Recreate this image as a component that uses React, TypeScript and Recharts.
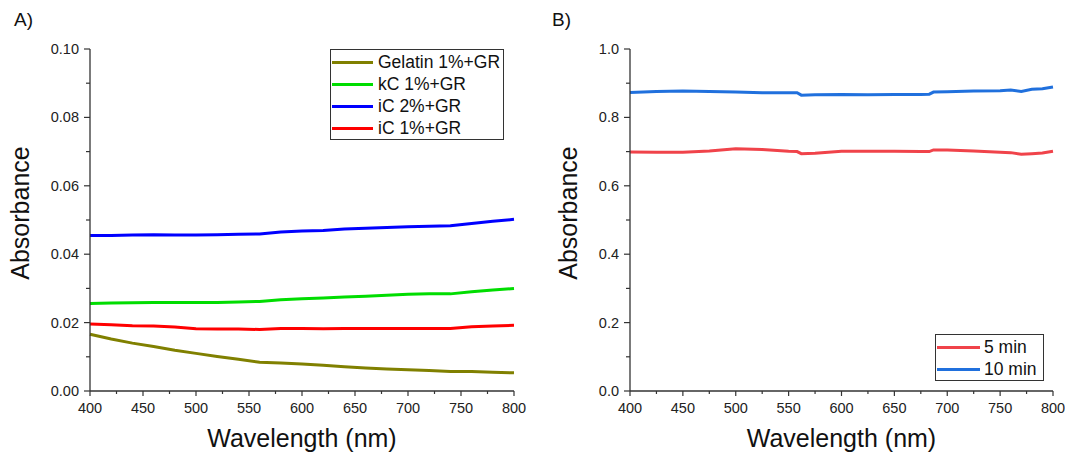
import React from 'react';
import { LineChart, Line, XAxis, YAxis, Label } from 'recharts';

const FONT = '"Liberation Sans", Arial, sans-serif';
const AXIS = '#333';

// Panel A
const wavelengthsA = [400, 420, 440, 460, 480, 500, 520, 540, 560, 580, 600, 620, 640, 660, 680, 700, 720, 740, 760, 780, 800];
const gelatin = [0.0166, 0.0152, 0.014, 0.013, 0.0119, 0.011, 0.0101, 0.0093, 0.0084, 0.0082, 0.0079, 0.0075, 0.0071, 0.0067, 0.0064, 0.0062, 0.006, 0.0057, 0.0057, 0.0055, 0.0053];
const kc1 = [0.0256, 0.0257, 0.0258, 0.0259, 0.0259, 0.0259, 0.0259, 0.026, 0.0262, 0.0267, 0.027, 0.0272, 0.0275, 0.0277, 0.028, 0.0283, 0.0284, 0.0284, 0.029, 0.0295, 0.03];
const ic2 = [0.0455, 0.0455, 0.0456, 0.0457, 0.0456, 0.0456, 0.0457, 0.0458, 0.0459, 0.0465, 0.0468, 0.0469, 0.0474, 0.0476, 0.0478, 0.048, 0.0482, 0.0483, 0.049, 0.0496, 0.0502];
const ic1 = [0.0196, 0.0194, 0.0191, 0.019, 0.0187, 0.0182, 0.0181, 0.0181, 0.018, 0.0183, 0.0183, 0.0182, 0.0183, 0.0183, 0.0183, 0.0183, 0.0183, 0.0183, 0.0188, 0.019, 0.0192];
const seriesA = [
  { key: 'gelatin', name: 'Gelatin 1%+GR', color: '#808000', values: gelatin },
  { key: 'kc1', name: 'kC 1%+GR', color: '#00dd00', values: kc1 },
  { key: 'ic2', name: 'iC 2%+GR', color: '#0000ff', values: ic2 },
  { key: 'ic1', name: 'iC 1%+GR', color: '#ff0000', values: ic1 },
];
const yTicksA = [0, 0.01, 0.02, 0.03, 0.04, 0.05, 0.06, 0.07, 0.08, 0.09, 0.1];

// Panel B
const wavelengthsB = [400, 425, 450, 475, 500, 525, 550, 558, 562, 575, 600, 625, 650, 675, 683, 687, 700, 725, 750, 760, 770, 780, 790, 800];
const min5 = [0.699, 0.698, 0.698, 0.702, 0.708, 0.706, 0.701, 0.7, 0.694, 0.695, 0.701, 0.701, 0.701, 0.7, 0.7, 0.705, 0.705, 0.702, 0.698, 0.697, 0.692, 0.694, 0.696, 0.701];
const min10 = [0.873, 0.876, 0.877, 0.876, 0.874, 0.872, 0.872, 0.872, 0.865, 0.866, 0.867, 0.866, 0.867, 0.867, 0.868, 0.874, 0.875, 0.877, 0.878, 0.88, 0.876, 0.882, 0.884, 0.889];
const seriesB = [
  { key: 'min5', name: '5 min', color: '#f0434a', values: min5 },
  { key: 'min10', name: '10 min', color: '#2070dd', values: min10 },
];
const yTicksB = [0, 0.1, 0.2, 0.3, 0.4, 0.5, 0.6, 0.7, 0.8, 0.9, 1.0];

const xTicks = [400, 425, 450, 475, 500, 525, 550, 575, 600, 625, 650, 675, 700, 725, 750, 775, 800];

function buildRows(wl: number[], series: { key: string; values: number[] }[]) {
  return wl.map((w, i) => {
    const row: Record<string, number> = { wl: w };
    series.forEach(s => { row[s.key] = s.values[i]; });
    return row;
  });
}

const XTick = (props: any) => {
  const { x, y, payload } = props;
  const major = payload.value % 50 === 0;
  return (
    <g>
      <line x1={x} x2={x} y1={y} y2={y + (major ? 5 : 3)} stroke={AXIS} strokeWidth={1.2} />
      {major && (
        <text x={x} y={y + 17} textAnchor="middle" dominantBaseline="central" fontSize={14.5} fill="#222" fontFamily={FONT}>
          {payload.value}
        </text>
      )}
    </g>
  );
};

const makeYTick = (step: number, digits: number) => (props: any) => {
  const { x, y, payload } = props;
  const major = Math.round(payload.value / step) % 2 === 0;
  return (
    <g>
      <line x1={x - (major ? 6 : 4)} x2={x} y1={y} y2={y} stroke={AXIS} strokeWidth={1.2} />
      {major && (
        <text x={x - 11} y={y} textAnchor="end" dominantBaseline="central" fontSize={14.5} fill="#222" fontFamily={FONT}>
          {payload.value.toFixed(digits)}
        </text>
      )}
    </g>
  );
};

interface LegendProps {
  items: { name: string; color: string }[];
  pos: React.CSSProperties;
  lineStart: number;
  lineWidth: number;
  gap: number;
  rowTop: number;
  rowHeight: number;
}

const LegendBox = ({ items, pos, lineStart, lineWidth, gap, rowTop, rowHeight }: LegendProps) => (
  <div style={{ position: 'absolute', ...pos, border: `1.2px solid ${AXIS}`, background: '#fff', boxSizing: 'border-box', paddingTop: rowTop }}>
    {items.map(it => (
      <div key={it.name} style={{ display: 'flex', alignItems: 'center', height: rowHeight }}>
        <span style={{ display: 'inline-block', width: lineWidth, height: 3, background: it.color, marginLeft: lineStart }} />
        <span style={{ marginLeft: gap, fontSize: 17.5, fontFamily: FONT, color: '#111', whiteSpace: 'nowrap' }}>{it.name}</span>
      </div>
    ))}
  </div>
);

interface PanelProps {
  width: number;
  rightMargin: number;
  wl: number[];
  series: { key: string; name: string; color: string; values: number[] }[];
  yTicks: number[];
  yMax: number;
  yStep: number;
  digits: number;
  yLabelX: number;
}

function Panel(p: PanelProps) {
  const data = buildRows(p.wl, p.series);
  const YTick = makeYTick(p.yStep, p.digits);
  return (
    <LineChart width={p.width} height={452} data={data} margin={{ top: 49, right: p.rightMargin, bottom: 0, left: 0 }}>
      <XAxis
        dataKey="wl" type="number" domain={[400, 800]} ticks={xTicks} interval={0}
        tickSize={0} tickMargin={0} tick={XTick} height={61}
        axisLine={{ stroke: AXIS, strokeWidth: 1.3 }} tickLine={false}
      >
        <Label value="Wavelength (nm)" position="insideBottom" offset={5} fontSize={25} fill="#111" fontFamily={FONT} />
      </XAxis>
      <XAxis xAxisId="top" orientation="top" dataKey="wl" type="number" domain={[400, 800]} height={0} tick={false} tickLine={false} axisLine={{ stroke: AXIS, strokeWidth: 1.3 }} />
      <YAxis
        type="number" domain={[0, p.yMax]} ticks={p.yTicks} interval={0} width={90}
        tickSize={0} tickMargin={0} tick={YTick} tickLine={false}
        axisLine={{ stroke: AXIS, strokeWidth: 1.3 }}
      >
        <Label
          content={(lp: any) => {
            const vb = lp.viewBox || { y: 49, height: 342 };
            const cy = vb.y + vb.height / 2 - 7;
            return (
              <text x={p.yLabelX} y={cy} transform={`rotate(-90 ${p.yLabelX} ${cy})`} textAnchor="middle" dominantBaseline="central" fontSize={25} fill="#111" fontFamily={FONT}>
                Absorbance
              </text>
            );
          }}
        />
      </YAxis>
      <YAxis yAxisId="right" orientation="right" type="number" domain={[0, p.yMax]} width={0} tick={false} tickLine={false} axisLine={{ stroke: AXIS, strokeWidth: 1.3 }} />
      {p.series.map(s => (
        <Line key={s.key} dataKey={s.key} name={s.name} stroke={s.color} strokeWidth={3} dot={false} type="linear" isAnimationActive={false} />
      ))}
    </LineChart>
  );
}

export default function App() {
  return (
    <div style={{ position: 'absolute', left: 0, top: 0, width: 1065, height: 452, background: '#fff', fontFamily: FONT }}>
      <div style={{ position: 'absolute', left: 14, top: 9, fontSize: 19, color: '#111' }}>A)</div>
      <div style={{ position: 'absolute', left: 552, top: 9, fontSize: 19, color: '#111' }}>B)</div>
      <div style={{ position: 'absolute', left: 0, top: 0 }}>
        <Panel width={530} rightMargin={16} wl={wavelengthsA} series={seriesA} yTicks={yTicksA} yMax={0.1} yStep={0.01} digits={2} yLabelX={20} />
      </div>
      <LegendBox
        items={seriesA} pos={{ left: 330, top: 49, width: 174, height: 91 }}
        lineStart={1} lineWidth={41} gap={5} rowTop={2} rowHeight={21.8}
      />
      <div style={{ position: 'absolute', left: 540, top: 0 }}>
        <Panel width={525} rightMargin={12} wl={wavelengthsB} series={seriesB} yTicks={yTicksB} yMax={1} yStep={0.1} digits={1} yLabelX={28} />
      </div>
      <LegendBox
        items={seriesB} pos={{ left: 935, top: 334, width: 109, height: 47 }}
        lineStart={1} lineWidth={43} gap={4} rowTop={1.5} rowHeight={22}
      />
    </div>
  );
}
